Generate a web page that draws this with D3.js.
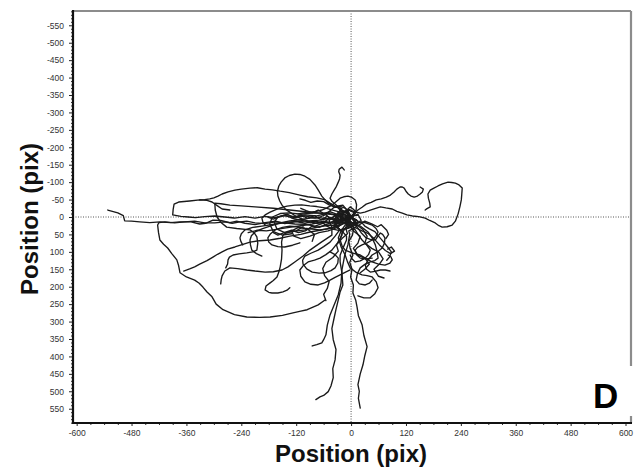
<!DOCTYPE html>
<html>
<head>
<meta charset="utf-8">
<script src="https://cdn.jsdelivr.net/npm/d3@7"></script>
<style>
  html, body { margin: 0; padding: 0; background: #fff; }
  svg { display: block; }
</style>
</head>
<body>
<svg id="chart" width="640" height="474"></svg>
<script>
// Axis tick values
const xTickValues = [-600, -480, -360, -240, -120, 0, 120, 240, 360, 480, 600];
const yTickValues = [-550, -500, -450, -400, -350, -300, -250, -200, -150, -100, -50,
                     0, 50, 100, 150, 200, 250, 300, 350, 400, 450, 500, 550];
const xTitle = "Position (pix)";
const yTitle = "Position (pix)";
const panelLetter = "D";

// Cell tracks, each starting at the origin: [x, y] in pixels
const cell01 = [[0,0],[-15,18],[-30,28],[-22,40],[-40,35],[-55,25],[-62,16],[-80,12],[-101,18],[-120,13],[-145,19],[-165,12],[-188,16],[-210,22],[-232,18],[-250,12],[-265,16],[-285,10],[-302,9],[-318,18],[-331,20],[-350,14],[-374,14],[-395,16],[-418,14],[-440,16],[-462,14],[-480,12],[-495,11],[-498,-4],[-510,-12],[-532,-20]];
const cell02 = [[0,0],[-10,-15],[-25,-10],[-18,5],[-35,12],[-48,2],[-57,-9],[-75,-3],[-101,-6],[-120,-1],[-145,-4],[-168,2],[-188,-2],[-210,3],[-232,-1],[-255,3],[-276,0],[-298,-3],[-320,-1],[-340,2],[-356,0],[-372,-2],[-390,-6],[-389,-22],[-387,-37],[-377,-43],[-353,-46],[-331,-49],[-315,-48],[-304,-43],[-292,-32],[-282,-23],[-265,-20]];
const cell03 = [[0,0],[8,-12],[-5,-20],[-20,-15],[-30,-28],[-46,-40],[-58,-50],[-75,-55],[-95,-58],[-112,-63],[-135,-70],[-155,-74],[-172,-78],[-188,-80],[-205,-84],[-221,-83],[-240,-80],[-254,-77],[-269,-72],[-282,-66],[-291,-60],[-300,-55],[-309,-52],[-320,-50],[-331,-49]];
const cell04 = [[0,0],[-20,5],[-30,-10],[-20,-25],[-38,-30],[-52,-42],[-64,-60],[-72,-78],[-79,-92],[-90,-108],[-101,-117],[-112,-122],[-123,-123],[-135,-119],[-145,-112],[-153,-100],[-158,-89],[-161,-74],[-160,-60],[-156,-46],[-151,-34],[-143,-22],[-134,-14],[-124,-5],[-112,3],[-100,9],[-90,14]];
const cell05 = [[0,0],[-6,-8],[-13,-14],[-22,-22],[-35,-37],[-42,-45],[-46,-54],[-42,-66],[-37,-77],[-32,-88],[-28,-100],[-25,-110],[-24,-120],[-27,-130],[-26,-137],[-20,-143],[-15,-135]];
const cell06 = [[0,-3],[-10,-12],[-5,-22],[8,-15],[20,-11],[30,-14],[42,-20],[52,-24],[64,-29],[76,-26],[90,-23],[100,-16],[112,-11],[122,-6],[134,-3],[148,-1],[162,3],[172,10],[184,17],[192,25],[199,29],[210,28],[221,23],[228,12],[234,-9],[238,-30],[241,-49],[242,-65],[243,-83],[236,-92],[228,-97],[220,-99],[212,-100],[200,-95],[190,-89],[180,-82],[173,-77],[168,-66],[169,-54],[172,-40],[173,-29],[166,-24],[162,-20]];
const cell07 = [[0,0],[6,-10],[15,-20],[24,-28],[33,-37],[44,-42],[55,-49],[66,-52],[77,-57],[86,-63],[94,-72],[100,-80],[107,-86],[112,-86],[116,-83],[120,-74],[125,-66],[131,-60],[138,-57],[145,-60],[151,-66],[156,-72],[158,-80],[151,-86]];
const cell08 = [[0,0],[-4,15],[6,30],[3,52],[-5,70],[-2,90],[4,109],[-3,130],[2,150],[-1,172],[5,195],[4,218],[10,238],[13,258],[16,283],[24,309],[28,340],[35,372],[30,398],[26,424],[20,450],[15,481],[18,500],[16,520],[20,548]];
const cell09 = [[0,0],[-20,10],[-35,25],[-20,40],[-10,55],[-10,66],[-18,90],[-24,110],[-24,129],[-20,160],[-18,195],[-24,215],[-28,238],[-33,265],[-37,289],[-42,320],[-39,352],[-33,380],[-35,410],[-40,435],[-39,461],[-44,485],[-50,501],[-60,512],[-68,516],[-77,524]];
const cell10 = [[0,0],[15,12],[10,30],[-5,40],[-3,50],[-7,80],[-14,110],[-20,152],[-22,190],[-28,223],[-38,255],[-46,281],[-52,310],[-55,338],[-60,352],[-64,361],[-75,366],[-85,370]];
const cell11 = [[0,0],[-12,18],[-5,32],[-22,38],[-38,24],[-30,8],[-48,4],[-62,18],[-79,26],[-100,21],[-123,20],[-145,17],[-166,14],[-188,19],[-210,17],[-228,12],[-243,14],[-260,18],[-276,14],[-298,17],[-320,17],[-342,12],[-364,14],[-386,17],[-407,14],[-420,16],[-423,23],[-421,45],[-418,66],[-410,78],[-401,89],[-392,105],[-381,123],[-377,140],[-374,160],[-360,172],[-342,181],[-332,190],[-324,201],[-315,215],[-304,229],[-295,250],[-280,266],[-255,280],[-228,287],[-200,288],[-177,287],[-150,282],[-127,275],[-110,270],[-96,266],[-82,258],[-72,252],[-57,238]];
const cell12 = [[0,0],[-10,-10],[-25,0],[-18,15],[-30,25],[-46,32],[-68,38],[-90,43],[-110,50],[-134,55],[-155,61],[-177,66],[-200,68],[-221,72],[-240,80],[-254,86],[-270,92],[-282,100],[-292,107],[-302,115],[-315,125],[-331,135],[-342,143],[-353,149],[-366,155]];
const cell13 = [[0,0],[-15,10],[-28,-5],[-45,-8],[-68,-11],[-100,-15],[-134,-20],[-170,-25],[-210,-29],[-240,-32],[-265,-34],[-285,-38],[-298,-40],[-297,-20],[-293,0],[-285,15],[-272,29],[-250,33],[-221,37],[-212,45],[-206,57],[-204,75],[-206,95],[-215,100],[-228,103],[-245,106],[-258,109],[-266,115],[-269,123],[-270,135],[-274,146]];
const cell14 = [[0,0],[-8,20],[-25,8],[-35,25],[-46,23],[-70,28],[-101,37],[-118,40],[-134,43],[-145,48],[-149,52],[-152,72],[-151,95],[-152,120],[-155,143],[-158,158],[-162,172],[-170,182],[-177,189],[-186,198],[-188,209],[-180,216],[-173,218],[-160,218],[-149,215],[-140,210],[-134,203]];
const cell15 = [[0,0],[-25,8],[-35,-5],[-48,10],[-42,30],[-42,52],[-65,72],[-90,95],[-105,112],[-123,129],[-138,143],[-151,152],[-170,157],[-188,158],[-210,155],[-228,152],[-248,148],[-265,146],[-276,155],[-282,169],[-284,180],[-285,192]];
const cell16 = [[0,0],[-10,20],[-28,14],[-45,3],[-68,9],[-100,12],[-134,14],[-165,20],[-195,26],[-215,30],[-232,37],[-240,48],[-243,60],[-241,70],[-237,80]];
const cell17 = [[0,0],[15,-8],[22,10],[8,20],[15,32],[22,45],[33,60],[42,64],[53,66],[58,56],[64,46],[69,50],[74,60],[73,75],[68,89],[58,100],[46,109],[38,122],[31,138],[34,150],[42,158],[52,156],[64,152],[75,152],[85,155]];
const cell18 = [[0,0],[-10,10],[5,18],[20,26],[28,34],[37,43],[46,60],[53,80],[57,100],[59,118],[52,125],[42,129],[30,136],[20,146],[14,162],[11,181],[18,192],[31,195],[40,190],[46,181]];
const cell19 = [[0,0],[12,10],[0,22],[-13,32],[-20,48],[-24,66],[-20,82],[-13,95],[2,103],[20,109],[34,120],[46,129],[60,135],[74,138],[85,132],[90,123],[87,114],[81,109]];
const cell20 = [[0,0],[-20,5],[-35,20],[-25,37],[-35,55],[-46,72],[-60,85],[-72,95],[-88,104],[-101,112],[-106,124],[-105,135],[-97,149],[-85,158],[-70,161],[-57,160],[-44,154],[-35,146],[-29,132],[-28,118],[-36,107],[-46,100]];
const cell21 = [[0,0],[-15,10],[-30,5],[-24,-14],[-40,-20],[-57,-26],[-75,-30],[-90,-32],[-108,-35],[-123,-34],[-140,-31],[-155,-26],[-167,-20],[-177,-14],[-188,-6],[-195,3],[-193,14],[-188,23]];
const cell22 = [[0,0],[-20,-8],[-35,5],[-24,22],[-35,29],[-50,34],[-68,37],[-85,35],[-101,32],[-118,28],[-134,26],[-150,30],[-166,37],[-176,48],[-182,60],[-180,72],[-173,80],[-160,85],[-145,86],[-128,81],[-112,74]];
const cell23 = [[0,0],[6,-10],[11,-20],[12,-35],[9,-49],[2,-56],[-7,-60],[-16,-58],[-24,-54],[-33,-44],[-42,-34],[-53,-26],[-64,-20],[-76,-16],[-90,-14],[-104,-12],[-116,-9]];
const cell24 = [[0,0],[-8,12],[10,20],[24,14],[35,18],[46,23],[54,32],[59,43],[54,56],[46,66],[35,74],[24,80],[14,87],[9,95],[12,108],[20,118],[33,120],[46,118]];
const cell25 = [[0,0],[10,15],[0,30],[-20,35],[-20,52],[-30,75],[-42,95],[-55,108],[-68,118],[-80,124],[-94,129],[-105,140],[-112,152],[-110,170],[-101,186],[-88,193],[-72,195],[-58,189],[-46,181],[-35,173],[-24,166],[-12,158],[-2,152]];
const cell26 = [[0,0],[12,8],[5,22],[-13,23],[-22,40],[-28,60],[-22,85],[-13,109],[-8,128],[-2,146],[10,158],[24,166],[35,168],[46,172],[55,186],[59,203],[52,220],[42,232],[28,232],[15,226]];
const cell27 = [[0,0],[-12,-15],[-30,-8],[-46,6],[-70,2],[-90,3],[-112,8],[-134,11],[-155,17],[-177,26],[-195,34],[-210,43],[-218,54],[-221,66],[-220,80],[-217,95],[-207,105],[-195,112]];
const cell28 = [[0,0],[-4,-10],[-7,-20],[-14,-14],[-20,-6],[-16,5],[-11,14],[-4,10],[2,3],[7,-6],[11,-14],[5,-22],[-2,-29],[-9,-20],[-15,-11]];
const cell29 = [[0,0],[-8,-18],[-18,-34],[-28,-32],[-39,-26],[-48,-16],[-57,-6],[-68,0],[-79,3],[-90,0],[-101,-3],[-115,0],[-129,3]];
const cell30 = [[0,0],[-12,10],[-5,25],[9,37],[16,52],[24,66],[34,80],[42,95],[38,108],[31,118],[20,126],[9,129],[2,120],[-2,109]];
const cell31 = [[0,0],[-20,-10],[-35,0],[-25,20],[-40,14],[-55,22],[-70,30],[-85,26],[-100,40],[-115,45],[-130,38],[-145,44],[-160,52],[-170,45]];
const cell32 = [[0,0],[-8,-5],[-15,5],[-25,-3],[-38,6],[-52,-2],[-66,8],[-80,-4],[-95,4],[-110,-6],[-125,2],[-140,-8],[-155,-2],[-170,6],[-182,0]];
const cell33 = [[0,0],[-10,8],[6,18],[22,14],[30,26],[40,34],[52,42],[60,55],[70,70],[80,86],[88,100],[84,115],[78,124]];
const cell34 = [[0,0],[-5,-12],[-12,-25],[-22,-30],[-35,-28],[-48,-35],[-60,-44],[-74,-46],[-88,-42],[-100,-48],[-112,-52]];
const cell35 = [[0,0],[-12,30],[-8,48],[-20,62],[-32,80],[-28,98],[-40,116],[-55,130],[-62,148],[-58,168],[-48,185],[-52,205],[-60,222],[-55,240]];
const cell36 = [[0,0],[-8,15],[5,28],[24,40],[38,48],[50,62],[62,80],[75,96],[86,105],[95,98],[88,86],[80,92]];
const cell37 = [[0,0],[8,15],[-2,22],[15,25],[30,12],[45,20],[58,28],[66,22],[72,30],[78,38],[82,50],[76,62]];
const cell38 = [[0,0],[-20,8],[-45,15],[-75,18],[-100,12],[-125,5],[-145,-5],[-160,0],[-168,15],[-162,35],[-145,45],[-120,40],[-105,28]];
const cell39 = [[0,0],[-25,-4],[-50,-10],[-80,-12],[-110,-8],[-135,-12],[-155,-10],[-172,0],[-178,20],[-170,42],[-150,52],[-130,48]];
const cell40 = [[0,0],[-15,15],[-30,30],[-50,40],[-70,45],[-90,55],[-110,62],[-125,55],[-130,40],[-115,30],[-95,35],[-80,50],[-85,70]];
const cell41 = [[0,0],[10,20],[25,35],[35,55],[30,75],[45,90],[60,100],[70,120],[62,135],[50,150],[60,170],[72,175]];
const cell42 = [[0,0],[-5,20],[5,40],[20,55],[15,75],[5,90],[15,110],[30,118],[40,135],[30,150],[20,160]];
const cell43 = [[0,0],[-18,12],[-40,18],[-60,12],[-85,20],[-110,25],[-135,30],[-160,35],[-185,40],[-205,38],[-225,45]];
const cell44 = [[0,0],[-8,-10],[-20,-18],[-32,-8],[-45,-15],[-60,-10],[-72,-20],[-85,-12],[-98,-18],[-110,-25]];

const tracks = [cell01, cell02, cell03, cell04, cell05, cell06, cell07, cell08, cell09, cell10,
                cell11, cell12, cell13, cell14, cell15, cell16, cell17, cell18, cell19, cell20,
                cell21, cell22, cell23, cell24, cell25, cell26, cell27, cell28, cell29, cell30,
                cell31, cell32, cell33, cell34, cell35, cell36, cell37, cell38, cell39, cell40,
                cell41, cell42, cell43, cell44];

const svg = d3.select("#chart");
const plotLeft = 73, plotRight = 631, plotTop = 11, plotBottom = 423;

const x = d3.scaleLinear().domain([-608, 612]).range([plotLeft, plotRight]);
const y = d3.scaleLinear().domain([-591, 591]).range([plotTop, plotBottom]);

const tickFont = "Arial, 'Liberation Sans', sans-serif";

// Crosshair through the origin
svg.append("line")
  .attr("x1", x(0)).attr("x2", x(0)).attr("y1", plotTop).attr("y2", plotBottom)
  .attr("stroke", "#555").attr("stroke-width", 1).attr("stroke-dasharray", "1,1.5");
svg.append("line")
  .attr("x1", plotLeft).attr("x2", plotRight).attr("y1", y(0)).attr("y2", y(0))
  .attr("stroke", "#555").attr("stroke-width", 1).attr("stroke-dasharray", "1,1.5");

// Tracks
const line = d3.line().x(d => x(d[0])).y(d => y(d[1]));
svg.append("g").selectAll("path").data(tracks).join("path")
  .attr("d", line)
  .attr("fill", "none")
  .attr("stroke", "#1a1a1a")
  .attr("stroke-width", 1.35)
  .attr("stroke-linejoin", "round")
  .attr("stroke-linecap", "round");

// Minor ticks
const yMinor = d3.range(-590, 591, 10).filter(v => v % 50 !== 0);
const xMinor = d3.range(-600, 601, 30).filter(v => v % 120 !== 0);

svg.append("g").attr("transform", `translate(${plotLeft},0)`)
  .call(d3.axisLeft(y).tickValues(yMinor).tickSize(2).tickFormat(""))
  .call(g => g.select(".domain").remove())
  .call(g => g.selectAll("line").attr("stroke", "#333"));
svg.append("g").attr("transform", `translate(0,${plotBottom})`)
  .call(d3.axisBottom(x).tickValues(xMinor).tickSize(2).tickFormat(""))
  .call(g => g.select(".domain").remove())
  .call(g => g.selectAll("line").attr("stroke", "#333"));

// Major ticks with labels
svg.append("g").attr("transform", `translate(${plotLeft},0)`)
  .call(d3.axisLeft(y).tickValues(yTickValues).tickSize(4).tickPadding(5).tickFormat(d => String(d)))
  .call(g => g.select(".domain").remove())
  .call(g => g.selectAll("line").attr("stroke", "#222"))
  .call(g => g.selectAll("text")
    .attr("font-family", tickFont).attr("font-size", 8.5).attr("fill", "#333"));
svg.append("g").attr("transform", `translate(0,${plotBottom})`)
  .call(d3.axisBottom(x).tickValues(xTickValues).tickSize(3).tickPadding(4).tickFormat(d => String(d)))
  .call(g => g.select(".domain").remove())
  .call(g => g.selectAll("line").attr("stroke", "#222"))
  .call(g => g.selectAll("text")
    .attr("font-family", tickFont).attr("font-size", 8.5).attr("fill", "#333"));

// Frame: grey top/right, black left/bottom
svg.append("line").attr("x1", plotLeft).attr("x2", plotRight).attr("y1", plotTop).attr("y2", plotTop)
  .attr("stroke", "#8c8c8c").attr("stroke-width", 2.2);
svg.append("line").attr("x1", plotRight).attr("x2", plotRight).attr("y1", plotTop).attr("y2", plotBottom)
  .attr("stroke", "#8c8c8c").attr("stroke-width", 2.2);
svg.append("line").attr("x1", plotLeft).attr("x2", plotLeft).attr("y1", plotTop - 1).attr("y2", plotBottom + 1)
  .attr("stroke", "#111").attr("stroke-width", 2.2);
svg.append("line").attr("x1", plotLeft - 1).attr("x2", plotRight + 1).attr("y1", plotBottom).attr("y2", plotBottom)
  .attr("stroke", "#111").attr("stroke-width", 2.2);

// Panel letter on a white patch
svg.append("rect").attr("x", 586).attr("y", 366).attr("width", 54).attr("height", 50).attr("fill", "#fff");
svg.append("text").attr("x", 593).attr("y", 408)
  .attr("font-family", tickFont).attr("font-weight", "bold").attr("font-size", 35)
  .attr("fill", "#000").text(panelLetter);

// Axis titles
svg.append("text").attr("x", 351).attr("y", 462).attr("text-anchor", "middle")
  .attr("font-family", tickFont).attr("font-weight", "bold").attr("font-size", 24)
  .attr("fill", "#111").text(xTitle);
svg.append("text").attr("transform", "translate(38,219) rotate(-90)").attr("text-anchor", "middle")
  .attr("font-family", tickFont).attr("font-weight", "bold").attr("font-size", 24)
  .attr("fill", "#111").text(yTitle);
</script>
</body>
</html>
